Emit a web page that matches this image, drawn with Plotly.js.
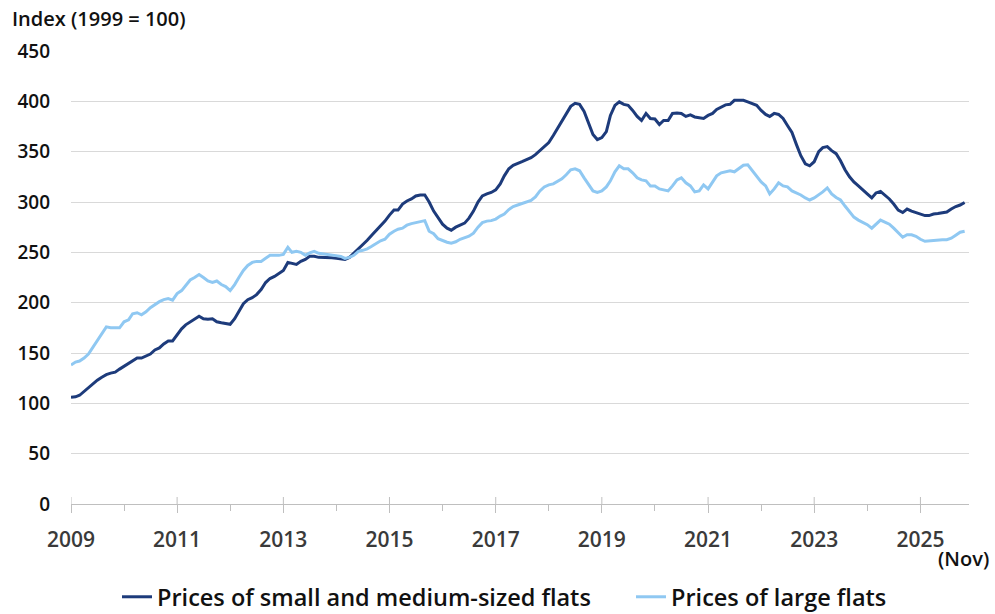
<!DOCTYPE html>
<html>
<head>
<meta charset="utf-8">
<script src="https://cdn.plot.ly/plotly-3.0.1.min.js"></script>
<style>html,body{margin:0;padding:0;background:#fff;}#chart{width:995px;height:614px;}</style>
</head>
<body>
<div id="chart"></div>
<script>
// Monthly index values, Jan 2009 – Nov 2025 (1999 = 100)
const startYear = 2009;
const smallMedium = [
  106,106.5,108,112,116,120,123,126,128.5,130,131,134,
  137,140,142,145,145,147,149,153,155,159,162,162,
  168,174,178,181,184,186.5,184,183.5,184,181,180,179,
  178.5,184,192,199,203,205,208,213,220,224,226,229,
  232,240,239,238,241,243,246,246,245,245,245,244.5,
  244,243.5,243,245,249,253,258,262,267,271.5,276,281,
  287,292,292,298,301,303,306,307,307,300,291,284,
  278,274,272,275,277,279,284,291,300,306,308,309.5,
  312,318,326,333,336.5,338,340,342,344,347,351,355,
  359,366,373,381,388,395,398,397,390,378,367,362,
  364,370,386,396,399.5,397,396,391,385,381,388,383,
  382.5,377,381,381,388,388.5,388,385,386.5,384.5,384,383,
  386,388,392,394,396.5,397,401,401,401,399.5,397.5,396,
  391,387,385,388,387,383,376,369,357,346,338,336,
  340,350,354,355,351,348,341,332,325,320,316,312.5,
  308,304,309,310.5,307,303,298,292,289.5,293,291,289.5,
  288,286.5,286.5,288,288.5,289,290,293,295.5,297,299.5
];
const large = [
  138,141,142,145,149,156,163,170,176,175,175,175,
  181,183,189,190,188,191,195,198,201,203,204,202.5,
  209,212,217,222.5,225,228,225,221.5,220,221.5,218,216,
  212,218,225,232,237,240,241,241,244,247,247,247,
  248,255,250,251,250,247,249.5,251,249,248.5,248,247.5,
  247,246,244,245,247,251,252,253.5,256,259,261.5,263,
  268,271,273,274,277,278.5,279.5,280,281.5,271,268.5,263.5,
  261.5,260,259,260.5,263,264.5,266,269,275,279.5,281,281.5,
  283,286,288,292.5,295.5,297,298.5,300,301.5,305,311,315,
  317,318,320,323,327,332,333,331,324,317,311,309.5,
  311,315,321,330,336,333,333,329,324,322,321,316,
  316,313,312,311,316,322,324,319,316,310,311,317,
  313,320,326,329,330,331,330,333,336.5,337,331,325,
  320,316,308,313,319,316,315,311,309,307,304,302,
  304,307,310,314,308,304.5,302,296,290,285,282,280,
  277.5,274,278,282,280,278,274,269,265,267.5,267.5,266,
  263,261,261.5,262,262,262.5,262.5,264,267,270,271
];
const seriesNames = ["Prices of small and medium-sized flats", "Prices of large flats"];
const labelYears = [2009,2011,2013,2015,2017,2019,2021,2023,2025];
const minorYears = [2010,2012,2014,2016,2018,2020,2022,2024];
const yTicks = [0,50,100,150,200,250,300,350,400,450];

function monthDate(i){
  const y = startYear + Math.floor(i/12);
  const m = (i % 12) + 1;
  return y + "-" + (m < 10 ? "0" + m : m) + "-01";
}
const dates = smallMedium.map((_, i) => monthDate(i));

const FONT = "Open Sans, Noto Sans, Arial, sans-serif";
const TXT = "#111111";
const AXIS = "#bfbfbf";
const legendFont = {family: FONT, size: 23.5, color: TXT, weight: 600};

const traces = [
  {x: dates, y: smallMedium, name: seriesNames[0], type: "scatter", mode: "lines",
   line: {color: "#1d3b7b", width: 3}, legend: "legend"},
  {x: dates, y: large, name: seriesNames[1], type: "scatter", mode: "lines",
   line: {color: "#8fc8f2", width: 3}, legend: "legend2"}
];

// upward part of the major ticks (crossing the axis line)
const tickShapes = labelYears.map(y => ({
  type: "line", xref: "x", yref: "paper", ysizemode: "pixel", yanchor: 0,
  x0: y + "-01-01", x1: y + "-01-01", y0: 0, y1: 7,
  line: {color: AXIS, width: 1}, layer: "above"
}));

const layout = {
  width: 995, height: 614,
  margin: {l: 71, r: 26, t: 51, b: 110},
  paper_bgcolor: "#fff", plot_bgcolor: "#fff",
  font: {family: FONT, size: 19, color: TXT, weight: 600},
  showlegend: true,
  legend: {orientation: "h", xref: "container", yref: "container",
           x: 117/995, xanchor: "left", y: 17/614, yanchor: "middle", font: legendFont},
  legend2: {orientation: "h", xref: "container", yref: "container",
           x: 631/995, xanchor: "left", y: 17/614, yanchor: "middle", font: legendFont},
  xaxis: {
    type: "date",
    range: ["2009-01-01", "2025-12-01"],
    tickvals: labelYears.map(y => y + "-01-01"),
    ticktext: labelYears.map(String),
    ticks: "outside", ticklen: 8, tickcolor: AXIS, tickwidth: 1,
    minor: {tickvals: minorYears.map(y => y + "-01-01"), ticks: "outside", ticklen: 6,
            tickcolor: AXIS, tickwidth: 1, showgrid: false},
    showline: true, linecolor: AXIS, linewidth: 1,
    showgrid: false, zeroline: false,
    ticklabelstandoff: 9,
    tickfont: {family: FONT, size: 21, color: "#3a3a3a", weight: 600}
  },
  yaxis: {
    range: [0, 450],
    tickvals: yTicks,
    showgrid: true, gridcolor: "#d9d9d9", gridwidth: 1,
    zeroline: false, showline: false, ticks: "",
    ticklabelstandoff: 20,
    tickfont: {family: FONT, size: 19, color: TXT, weight: 600}
  },
  shapes: tickShapes,
  annotations: [
    {text: "Index (1999 = 100)", xref: "paper", yref: "paper", x: -0.068, y: 1.071,
     xanchor: "left", yanchor: "middle", showarrow: false,
     font: {family: FONT, size: 20, color: TXT, weight: 600}},
    {text: "(Nov)", xref: "paper", yref: "paper", x: 1.025, y: -0.121,
     xanchor: "right", yanchor: "middle", showarrow: false,
     font: {family: FONT, size: 20, color: TXT, weight: 600}}
  ]
};

Plotly.newPlot("chart", traces, layout, {displayModeBar: false, staticPlot: true});
</script>
</body>
</html>
